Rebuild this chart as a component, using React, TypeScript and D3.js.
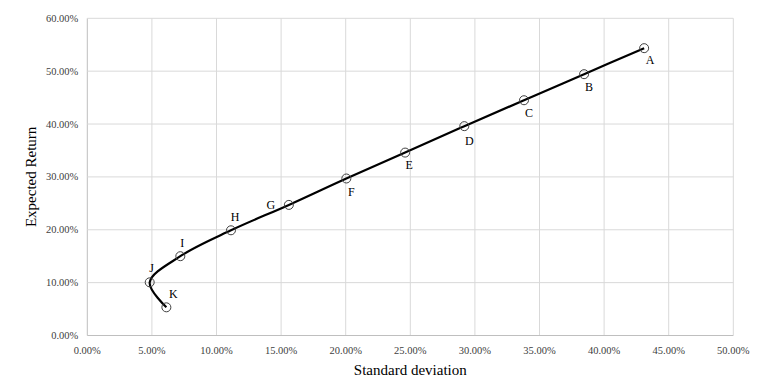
import * as React from 'react';
import * as d3 from 'd3';

const labels = ['A', 'B', 'C', 'D', 'E', 'F', 'G', 'H', 'I', 'J', 'K'];
const stdDev = [43.1, 38.45, 33.8, 29.18, 24.6, 20.05, 15.6, 11.12, 7.2, 4.83, 6.12];
const expReturn = [54.35, 49.43, 44.5, 39.6, 34.6, 29.7, 24.7, 19.9, 15.0, 10.06, 5.33];

const xTicks = d3.range(0, 50.01, 5);
const yTicks = d3.range(0, 60.01, 10);

// label offsets relative to each point
const labelPos: {[k: string]: [number, number]} = {
  A: [6, 16], B: [5, 17], C: [5, 17], D: [5, 19], E: [4, 16], F: [5, 18],
  G: [-18, 4], H: [4, -9], I: [2, -9], J: [2, -10], K: [7, -9],
};

const width = 761;
const height = 391;
const margin = {left: 87.3, right: 761 - 733.3, top: 18.3, bottom: 391 - 335.5};

const App = () => {
  const x = d3.scaleLinear().domain([0, 50]).range([margin.left, width - margin.right]);
  const y = d3.scaleLinear().domain([0, 60]).range([height - margin.bottom, margin.top]);

  const pts = stdDev.map((s, i) => ({s, r: expReturn[i], name: labels[i]}));
  const line = d3.line<{s: number, r: number}>()
    .x(d => x(d.s))
    .y(d => y(d.r))
    .curve(d3.curveCatmullRom.alpha(0.5));

  const font = '"Liberation Serif", "DejaVu Serif", serif';

  return (
    <svg width={width} height={height} style={{position: 'absolute', left: 0, top: 0, background: '#fff'}}
      fontFamily={font}>
      <g>
        {xTicks.map(t => (
          <line key={'gx' + t} x1={x(t)} x2={x(t)} y1={y(60)} y2={y(0)}
            stroke={t === 0 ? '#bfbfbf' : '#d9d9d9'} strokeWidth={1} />
        ))}
        {yTicks.map(t => (
          <line key={'gy' + t} x1={x(0)} x2={x(50)} y1={y(t)} y2={y(t)}
            stroke={t === 0 ? '#bfbfbf' : '#d9d9d9'} strokeWidth={1} />
        ))}
      </g>
      <g fontSize={10.5} fill="#404040">
        {xTicks.map(t => (
          <text key={'tx' + t} x={x(t)} y={y(0) + 18} textAnchor="middle">{t.toFixed(2) + '%'}</text>
        ))}
        {yTicks.map(t => (
          <text key={'ty' + t} x={x(0) - 9} y={y(t) + 3.5} textAnchor="end">{t.toFixed(2) + '%'}</text>
        ))}
      </g>
      <path d={line(pts) || ''} fill="none" stroke="#000" strokeWidth={2.2} />
      {pts.map(p => (
        <circle key={'c' + p.name} cx={x(p.s)} cy={y(p.r)} r={4.5} fill="none" stroke="#404040" strokeWidth={1} />
      ))}
      <g fontSize={12} fill="#000">
        {pts.map(p => (
          <text key={'l' + p.name} x={x(p.s) + labelPos[p.name][0]} y={y(p.r) + labelPos[p.name][1]}
            textAnchor="middle">{p.name}</text>
        ))}
      </g>
      <text x={(x(0) + x(50)) / 2} y={375} textAnchor="middle" fontSize={15} fill="#000">Standard deviation</text>
      <text transform={`translate(36,${(y(0) + y(60)) / 2}) rotate(-90)`} textAnchor="middle" fontSize={15} fill="#000">
        Expected Return
      </text>
    </svg>
  );
};

export default App;
